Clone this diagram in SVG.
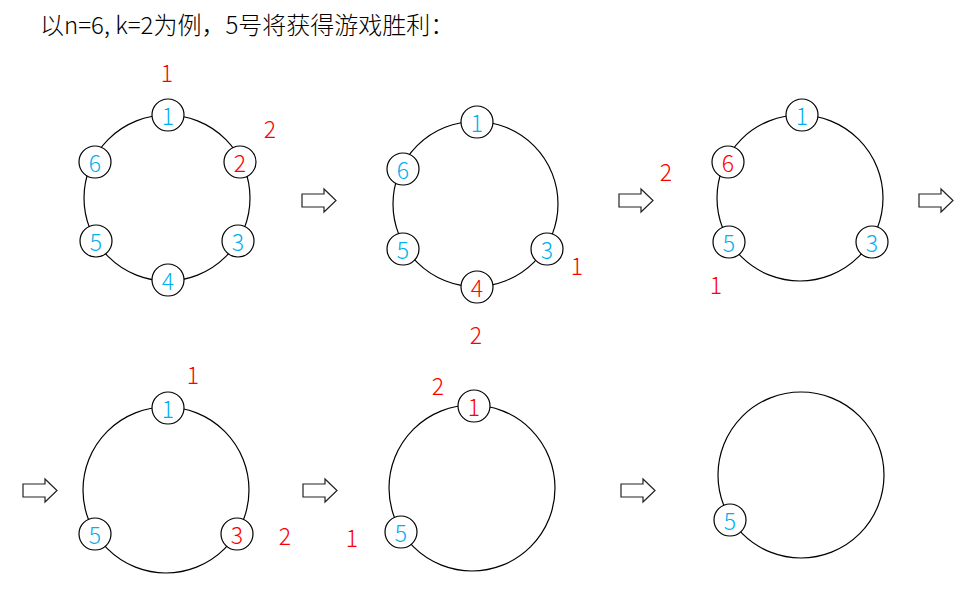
<svg xmlns="http://www.w3.org/2000/svg" width="977" height="606" viewBox="0 0 977 606">
<style>
.ring{fill:none;stroke:#000;stroke-width:1.2}
.nd circle{fill:#fff;stroke:#000;stroke-width:1.2}
.t{font-family:"Noto Sans CJK SC","Liberation Sans",sans-serif;font-weight:300;font-size:23px;text-anchor:middle;dominant-baseline:central}
.b{fill:#00B0F0}
.r{fill:#FF0000}
.arr{fill:#fff;stroke:#222;stroke-width:1.2}
.title{font-family:"Noto Sans CJK SC","Liberation Sans",sans-serif;font-weight:300;font-size:24px;fill:#000}
</style>
<defs>
<path id="arrow" d="M0,5 H22 V0 L34,11.5 L22,23 V18 H0 Z"/>
</defs>
<text class="title" x="40" y="34">以n=6, k=2为例，5号将获得游戏胜利：</text>
<g id="connectors">
<use href="#arrow" class="arr" x="302" y="189"/>
<use href="#arrow" class="arr" x="619" y="189"/>
<use href="#arrow" class="arr" x="919" y="189"/>
<use href="#arrow" class="arr" x="23" y="479"/>
<use href="#arrow" class="arr" x="303" y="479"/>
<use href="#arrow" class="arr" x="621" y="479"/>
</g>
<g id="panel1">
<circle class="ring" cx="167" cy="198" r="83"/>
<g id="p1n1" class="nd"><circle cx="168" cy="115" r="16"/><text class="t b" x="168" y="115">1</text></g>
<g id="p1n2" class="nd"><circle cx="240" cy="162" r="16"/><text class="t r" x="240" y="162">2</text></g>
<g id="p1n3" class="nd"><circle cx="238" cy="241" r="16"/><text class="t b" x="238" y="241">3</text></g>
<g id="p1n4" class="nd"><circle cx="168" cy="280" r="16"/><text class="t b" x="168" y="280">4</text></g>
<g id="p1n5" class="nd"><circle cx="96" cy="241" r="16"/><text class="t b" x="96" y="241">5</text></g>
<g id="p1n6" class="nd"><circle cx="95" cy="162" r="16"/><text class="t b" x="95" y="162">6</text></g>
<text class="t r" x="167" y="72">1</text>
<text class="t r" x="270" y="128">2</text>
</g>
<g id="panel2">
<circle class="ring" cx="475.5" cy="204" r="82.5"/>
<g id="p2n1" class="nd"><circle cx="477" cy="122" r="16"/><text class="t b" x="477" y="122">1</text></g>
<g id="p2n6" class="nd"><circle cx="403" cy="169" r="16"/><text class="t b" x="403" y="169">6</text></g>
<g id="p2n5" class="nd"><circle cx="403" cy="249" r="16"/><text class="t b" x="403" y="249">5</text></g>
<g id="p2n4" class="nd"><circle cx="477" cy="287" r="16"/><text class="t r" x="477" y="287">4</text></g>
<g id="p2n3" class="nd"><circle cx="547" cy="249" r="16"/><text class="t b" x="547" y="249">3</text></g>
<text class="t r" x="577" y="265">1</text>
<text class="t r" x="476" y="334">2</text>
</g>
<g id="panel3">
<circle class="ring" cx="800" cy="198" r="83"/>
<g id="p3n1" class="nd"><circle cx="802" cy="115" r="16"/><text class="t b" x="802" y="115">1</text></g>
<g id="p3n6" class="nd"><circle cx="728" cy="162" r="16"/><text class="t r" x="728" y="162">6</text></g>
<g id="p3n5" class="nd"><circle cx="729" cy="242" r="16"/><text class="t b" x="729" y="242">5</text></g>
<g id="p3n3" class="nd"><circle cx="872" cy="242" r="16"/><text class="t b" x="872" y="242">3</text></g>
<text class="t r" x="666" y="171">2</text>
<text class="t r" x="716" y="284">1</text>
</g>
<g id="panel4">
<circle class="ring" cx="166" cy="490" r="83"/>
<g id="p4n1" class="nd"><circle cx="168" cy="408" r="16"/><text class="t b" x="168" y="408">1</text></g>
<g id="p4n5" class="nd"><circle cx="95" cy="534" r="16"/><text class="t b" x="95" y="534">5</text></g>
<g id="p4n3" class="nd"><circle cx="237" cy="534" r="16"/><text class="t r" x="237" y="534">3</text></g>
<text class="t r" x="193" y="374">1</text>
<text class="t r" x="285" y="535">2</text>
</g>
<g id="panel5">
<circle class="ring" cx="472" cy="488" r="83"/>
<g id="p5n1" class="nd"><circle cx="474" cy="406" r="16"/><text class="t r" x="474" y="406">1</text></g>
<g id="p5n5" class="nd"><circle cx="401" cy="532" r="16"/><text class="t b" x="401" y="532">5</text></g>
<text class="t r" x="438" y="385">2</text>
<text class="t r" x="352" y="537">1</text>
</g>
<g id="panel6">
<circle class="ring" cx="801" cy="475" r="83"/>
<g id="p6n5" class="nd"><circle cx="730" cy="520" r="16"/><text class="t b" x="730" y="520">5</text></g>
</g>
</svg>
